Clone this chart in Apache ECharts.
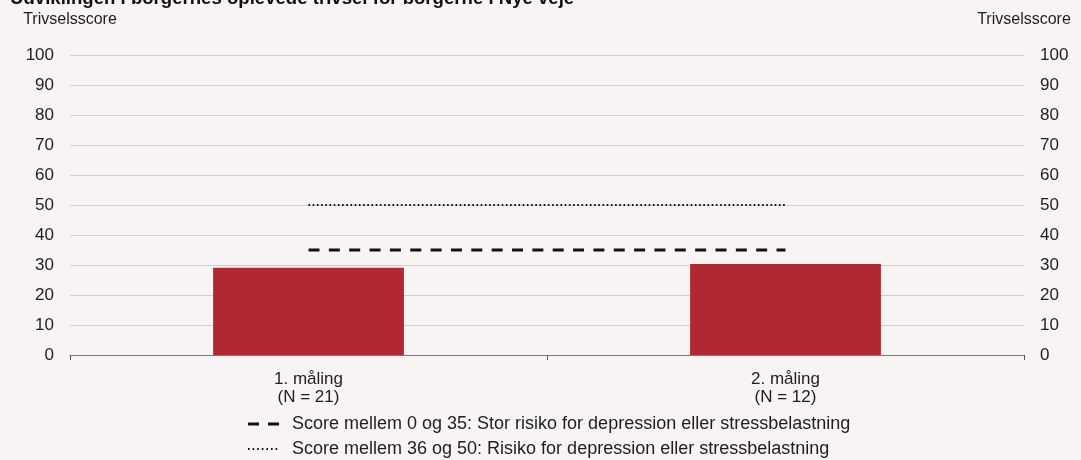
<!DOCTYPE html>
<html>
<head>
<meta charset="utf-8">
<script src="https://cdn.jsdelivr.net/npm/echarts@6/dist/echarts.min.js"></script>
<style>
  html, body { margin: 0; padding: 0; background: #f7f4f3; }
  #chart { width: 1081px; height: 460px; }
</style>
</head>
<body>
<div id="chart"></div>
<script>
// Trivselsscore per måling
const categories = ['1. måling\n(N = 21)', '2. måling\n(N = 12)'];
const scores = [29.1, 30.3];
const highRiskLimit = [35, 35];
const riskLimit = [50, 50];
const yTicks = { min: 0, max: 100, interval: 10 };

const titleText = 'Udviklingen i borgernes oplevede trivsel for borgerne i Nye veje';
const axisName = 'Trivselsscore';
const legendHigh = 'Score mellem 0 og 35: Stor risiko for depression eller stressbelastning';
const legendRisk = 'Score mellem 36 og 50: Risiko for depression eller stressbelastning';

const font = 'Liberation Sans, Arial, sans-serif';
const textColor = '#1e1e1e';
const highDash = [11, 9.35];
const riskDash = [1.6, 2.6];

const chart = echarts.init(document.getElementById('chart'));

const yAxisBase = {
  type: 'value',
  min: yTicks.min,
  max: yTicks.max,
  interval: yTicks.interval,
  name: axisName,
  nameLocation: 'end',
  nameGap: 27,
  nameTextStyle: { color: textColor, fontSize: 16, fontFamily: font },
  axisLine: { show: false },
  axisTick: { show: false },
  axisLabel: { color: textColor, fontSize: 17, fontFamily: font, margin: 16 }
};

// legend drawn as line samples with text
function legendRow(y, dash, width, label) {
  return [
    {
      type: 'line',
      shape: { x1: 248, y1: y, x2: 280, y2: y },
      style: { stroke: '#111', lineWidth: width, lineDash: dash }
    },
    {
      type: 'text',
      x: 292,
      y: y,
      style: {
        text: label,
        font: '18px ' + font,
        fill: textColor,
        textVerticalAlign: 'middle',
        verticalAlign: 'middle'
      }
    }
  ];
}

chart.setOption({
  backgroundColor: '#f7f4f3',
  animation: false,
  graphic: [
    {
      type: 'text',
      left: 10,
      top: -11,
      style: { text: titleText, font: 'bold 18.6px ' + font, fill: '#111' }
    }
  ].concat(
    legendRow(424, [11, 9], 3, legendHigh),
    legendRow(449, [1.6, 3], 2, legendRisk)
  ),
  grid: { left: 70, right: 57, top: 55, bottom: 105 },
  xAxis: {
    type: 'category',
    data: categories,
    axisLine: { lineStyle: { color: '#7a7a7a', width: 1 } },
    axisTick: { show: true, length: 5, lineStyle: { color: '#555' } },
    axisLabel: { color: textColor, fontSize: 17, fontFamily: font, lineHeight: 18, margin: 15 }
  },
  yAxis: [
    Object.assign({}, yAxisBase, {
      position: 'left',
      splitLine: { lineStyle: { color: '#cfcfcf', width: 1 } }
    }),
    Object.assign({}, yAxisBase, {
      position: 'right',
      splitLine: { show: false }
    })
  ],
  series: [
    {
      type: 'bar',
      data: scores,
      barWidth: '40%',
      itemStyle: { color: '#b02830' },
      silent: true
    },
    {
      name: legendHigh,
      type: 'line',
      data: highRiskLimit,
      symbol: 'none',
      lineStyle: { color: '#111', width: 3, type: highDash },
      silent: true
    },
    {
      name: legendRisk,
      type: 'line',
      data: riskLimit,
      symbol: 'none',
      lineStyle: { color: '#111', width: 2, type: riskDash },
      silent: true
    }
  ]
});
</script>
</body>
</html>
